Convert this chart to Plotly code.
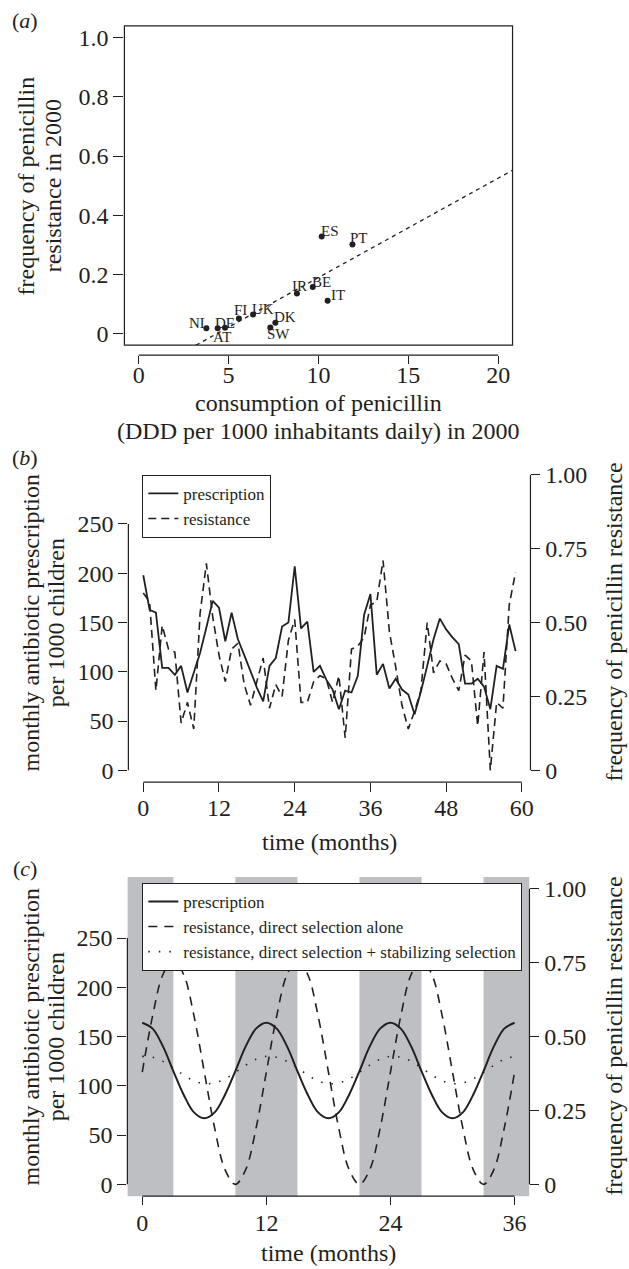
import plotly.graph_objects as go

W, H = 629, 1269
INK = "#231f20"
FONT = "Liberation Serif"

# ---------------- data: panel (a) ----------------
countries = ["NL", "AT", "DE", "FI", "UK", "SW", "DK", "IR", "BE", "IT", "ES", "PT"]
consumption = [3.76, 4.39, 4.80, 5.57, 6.36, 7.32, 7.60, 8.80, 9.68, 10.51, 10.18, 11.89]
resistance_2000 = [0.017, 0.017, 0.019, 0.050, 0.064, 0.020, 0.036, 0.135, 0.157, 0.110, 0.328, 0.301]
fit_slope = 0.0336
fit_intercept = -0.147

# ---------------- data: panel (b) ----------------
months_b = list(range(60))
prescription_b = [198, 163, 160, 104, 104, 97, 106, 79, 99, 119,
                  145, 172, 165, 131, 160, 133, 117, 100, 84, 70,
                  106, 114, 146, 150, 207, 144, 151, 100, 106, 92,
                  82, 62, 81, 79, 96, 158, 179, 97, 108, 83,
                  93, 82, 77, 57, 80, 106, 133, 154, 143, 135,
                  128, 88, 88, 93, 85, 62, 106, 103, 148, 121]
resistance_b = [0.60, 0.57, 0.27, 0.49, 0.41, 0.40, 0.16, 0.23, 0.14, 0.53,
                0.70, 0.52, 0.39, 0.30, 0.41, 0.43, 0.29, 0.22, 0.30, 0.38,
                0.21, 0.29, 0.25, 0.44, 0.51, 0.23, 0.23, 0.30, 0.32, 0.31,
                0.23, 0.32, 0.11, 0.41, 0.42, 0.45, 0.56, 0.57, 0.71, 0.47,
                0.35, 0.22, 0.14, 0.20, 0.27, 0.50, 0.33, 0.37, 0.36, 0.31,
                0.27, 0.39, 0.37, 0.15, 0.40, 0.00, 0.23, 0.21, 0.56, 0.67]

# ---------------- data: panel (c) ----------------
months_c = list(range(37))
prescription_c = [164, 158, 140, 115, 91, 73, 67, 73, 91, 115, 140, 158,
                  164, 158, 140, 115, 91, 73, 67, 73, 91, 115, 140, 158,
                  164, 158, 140, 115, 91, 73, 67, 73, 91, 115, 140, 158, 164]
resist_direct_c = [0.38, 0.57, 0.71, 0.76, 0.71, 0.57, 0.38, 0.19, 0.05, 0.00, 0.05, 0.19,
                   0.38, 0.57, 0.71, 0.76, 0.71, 0.57, 0.38, 0.19, 0.05, 0.00, 0.05, 0.19,
                   0.38, 0.57, 0.71, 0.76, 0.71, 0.57, 0.38, 0.19, 0.05, 0.00, 0.05, 0.19, 0.38]
resist_stab_c = [0.433, 0.430, 0.416, 0.394, 0.370, 0.350, 0.341, 0.343, 0.357, 0.379, 0.403, 0.423,
                 0.433, 0.430, 0.416, 0.394, 0.370, 0.350, 0.341, 0.343, 0.357, 0.379, 0.403, 0.423,
                 0.433, 0.430, 0.416, 0.394, 0.370, 0.350, 0.341, 0.343, 0.357, 0.379, 0.403, 0.423, 0.433]
high_season = [(-3, 3), (9, 15), (21, 27), (33, 39)]

# tick labels
ticks_a_x = [0, 5, 10, 15, 20]
ticks_a_y = [0, 0.2, 0.4, 0.6, 0.8, 1.0]
ticktext_a_y = ["0", "0.2", "0.4", "0.6", "0.8", "1.0"]
ticks_b_x = [0, 12, 24, 36, 48, 60]
ticks_c_x = [0, 12, 24, 36]
ticks_left = [0, 50, 100, 150, 200, 250]
ticks_right = [0, 0.25, 0.5, 0.75, 1.0]
ticktext_right = ["0", "0.25", "0.50", "0.75", "1.00"]


def px(x):
    return x / W


def py(y):
    return 1 - y / H


# layout geometry (pixels)
A = dict(l=125, r=515, t=25, b=345, xline=355)
B = dict(l=129, r=533, t=463, b=783)
C = dict(l=128, r=532, t=878, b=1198)

XR_A = [-0.8, 20.8]
XR_B = [-2.36, 61.36]
XR_C = [-1.44, 37.44]
YR_L = [-12, 312]
YR_R = [-0.04, 1.04]

fig = go.Figure()

# ---- panel a ----
fig.add_trace(go.Scatter(
    x=[(YR_R[0] - fit_intercept) / fit_slope, XR_A[1]],
    y=[YR_R[0], fit_intercept + fit_slope * XR_A[1]],
    mode="lines", line=dict(color=INK, width=1.3, dash="4px,4px"),
    xaxis="x", yaxis="y", showlegend=False, hoverinfo="skip"))
fig.add_trace(go.Scatter(
    x=consumption, y=resistance_2000, mode="markers",
    marker=dict(color=INK, size=6), xaxis="x", yaxis="y", showlegend=False))

label_nudge = {"NL": (-7, 5), "AT": (4, -9), "DE": (0, 5), "FI": (2, 9), "UK": (10, 5),
               "SW": (8, -7), "DK": (10, 6), "IR": (3, 7), "BE": (9, 5), "IT": (10, 6),
               "ES": (8, 5), "PT": (7, 6)}
annotations = []
for c, xv, yv in zip(countries, consumption, resistance_2000):
    dx, dy = label_nudge[c]
    annotations.append(dict(x=xv, y=yv, xref="x", yref="y", text=c, showarrow=False,
                            xshift=dx, yshift=dy, font=dict(size=15, color=INK, family=FONT)))

# ---- panel b ----
fig.add_trace(go.Scatter(x=months_b, y=prescription_b, mode="lines", name="prescription",
                         line=dict(color=INK, width=1.8), xaxis="x2", yaxis="y2",
                         legend="legend"))
fig.add_trace(go.Scatter(x=months_b, y=resistance_b, mode="lines", name="resistance",
                         line=dict(color=INK, width=1.6, dash="8px,5px"), xaxis="x2", yaxis="y3",
                         legend="legend"))

# ---- panel c ----
fig.add_trace(go.Scatter(x=months_c, y=prescription_c, mode="lines", name="prescription",
                         line=dict(color=INK, width=2, shape="spline", smoothing=1),
                         xaxis="x3", yaxis="y4", legend="legend2"))
fig.add_trace(go.Scatter(x=months_c, y=resist_direct_c, mode="lines",
                         name="resistance, direct selection alone",
                         line=dict(color=INK, width=1.6, dash="9px,7px", shape="spline", smoothing=1),
                         xaxis="x3", yaxis="y5", legend="legend2"))
fig.add_trace(go.Scatter(x=months_c, y=resist_stab_c, mode="lines",
                         name="resistance, direct selection + stabilizing selection",
                         line=dict(color=INK, width=1.6, dash="1.5px,9px", shape="spline", smoothing=1),
                         xaxis="x3", yaxis="y5", legend="legend2"))

tickfont = dict(size=24, color=INK, family=FONT)
common = dict(showgrid=False, zeroline=False, showline=False, ticks="outside",
              tickcolor=INK, tickwidth=1, tickfont=tickfont, fixedrange=True)

shapes = []
# panel a box and detached x-axis
shapes.append(dict(type="rect", xref="paper", yref="paper", x0=px(A["l"]), x1=px(A["r"]),
                   y0=py(A["b"]), y1=py(A["t"]), line=dict(color=INK, width=1.2)))
shapes.append(dict(type="line", xref="x", yref="paper", x0=ticks_a_x[0], x1=ticks_a_x[-1],
                   y0=py(A["xline"]), y1=py(A["xline"]), line=dict(color=INK, width=1.2)))
# panel b axis lines
shapes.append(dict(type="line", xref="paper", yref="y2", x0=px(B["l"]), x1=px(B["l"]),
                   y0=ticks_left[0], y1=ticks_left[-1], line=dict(color=INK, width=1.2)))
shapes.append(dict(type="line", xref="paper", yref="y3", x0=px(B["r"]), x1=px(B["r"]),
                   y0=ticks_right[0], y1=ticks_right[-1], line=dict(color=INK, width=1.2)))
shapes.append(dict(type="line", xref="x2", yref="paper", x0=ticks_b_x[0], x1=ticks_b_x[-1],
                   y0=py(B["b"]), y1=py(B["b"]), line=dict(color=INK, width=1.2)))
# panel c shaded high-prescription seasons
for s0, s1 in high_season:
    shapes.append(dict(type="rect", xref="x3", yref="paper", x0=max(s0, XR_C[0]), x1=min(s1, XR_C[1]),
                       y0=py(C["b"]), y1=py(C["t"]), fillcolor="#bebfc3", line=dict(width=0),
                       layer="below"))
shapes.append(dict(type="line", xref="paper", yref="y4", x0=px(C["l"]), x1=px(C["l"]),
                   y0=ticks_left[0], y1=ticks_left[-1], line=dict(color=INK, width=1.2)))
shapes.append(dict(type="line", xref="paper", yref="y5", x0=px(C["r"]), x1=px(C["r"]),
                   y0=ticks_right[0], y1=ticks_right[-1], line=dict(color=INK, width=1.2)))
shapes.append(dict(type="line", xref="x3", yref="paper", x0=ticks_c_x[0], x1=ticks_c_x[-1],
                   y0=py(C["b"]), y1=py(C["b"]), line=dict(color=INK, width=1.2)))


def ann(text, x, y, size=24, angle=0, xanchor="center", yanchor="middle"):
    annotations.append(dict(text=text, x=px(x), y=py(y), xref="paper", yref="paper",
                            showarrow=False, textangle=angle, xanchor=xanchor, yanchor=yanchor,
                            font=dict(size=size, color=INK, family=FONT)))


# panel labels
ann("(<i>a</i>)", 25, 20, size=22)
ann("(<i>b</i>)", 25, 458, size=22)
ann("(<i>c</i>)", 25, 870, size=22)
# axis titles panel a
ann("frequency of penicillin", 26, (A["t"] + A["b"]) / 2, angle=-90)
ann("resistance in 2000", 53, (A["t"] + A["b"]) / 2, angle=-90)
ann("consumption of penicillin", (A["l"] + A["r"]) / 2, 403)
ann("(DDD per 1000 inhabitants daily) in 2000", (A["l"] + A["r"]) / 2, 431)
# panel b / c
for P, ttl_y in ((B, 843), (C, 1255)):
    mid = (P["t"] + P["b"]) / 2
    ann("monthly antibiotic prescription", 31, mid, angle=-90)
    ann("per 1000 children", 56, mid, angle=-90)
    ann("frequency of penicillin resistance", 616, mid, angle=-90)
    ann("time (months)", (P["l"] + P["r"]) / 2, ttl_y)

legend_style = dict(bgcolor="white", bordercolor=INK, borderwidth=1,
                    font=dict(size=17, color=INK, family=FONT), xanchor="left", yanchor="top",
                    tracegroupgap=0, itemwidth=30)

fig.update_layout(
    width=W, height=H, margin=dict(l=0, r=0, t=0, b=0),
    paper_bgcolor="white", plot_bgcolor="white",
    font=dict(family=FONT, color=INK),
    showlegend=True,
    legend=dict(x=px(143), y=py(475), **legend_style),
    legend2=dict(x=px(143), y=py(884), **legend_style),
    xaxis=dict(domain=[px(A["l"]), px(A["r"])], range=XR_A, anchor="free", position=py(A["xline"]),
               tickvals=ticks_a_x, ticklen=8, ticklabelstandoff=-10, **common),
    yaxis=dict(domain=[py(A["b"]), py(A["t"])], range=YR_R, anchor="x",
               tickvals=ticks_a_y, ticktext=ticktext_a_y, ticklen=10, **common),
    xaxis2=dict(domain=[px(B["l"]), px(B["r"])], range=XR_B, anchor="y2",
                tickvals=ticks_b_x, ticklen=9, ticklabelstandoff=-5, **common),
    yaxis2=dict(domain=[py(B["b"]), py(B["t"])], range=YR_L, anchor="x2",
                tickvals=ticks_left, ticklen=9, **common),
    yaxis3=dict(overlaying="y2", side="right", range=YR_R, anchor="x2",
                tickvals=ticks_right, ticktext=ticktext_right, ticklen=9, **common),
    xaxis3=dict(domain=[px(C["l"]), px(C["r"])], range=XR_C, anchor="y4",
                tickvals=ticks_c_x, ticklen=8, ticklabelstandoff=-3, **common),
    yaxis4=dict(domain=[py(C["b"]), py(C["t"])], range=YR_L, anchor="x3",
                tickvals=ticks_left, ticklen=9, **common),
    yaxis5=dict(overlaying="y4", side="right", range=YR_R, anchor="x3",
                tickvals=ticks_right, ticktext=ticktext_right, ticklen=9, **common),
    shapes=shapes,
    annotations=annotations,
)

fig.write_html("out.html")
